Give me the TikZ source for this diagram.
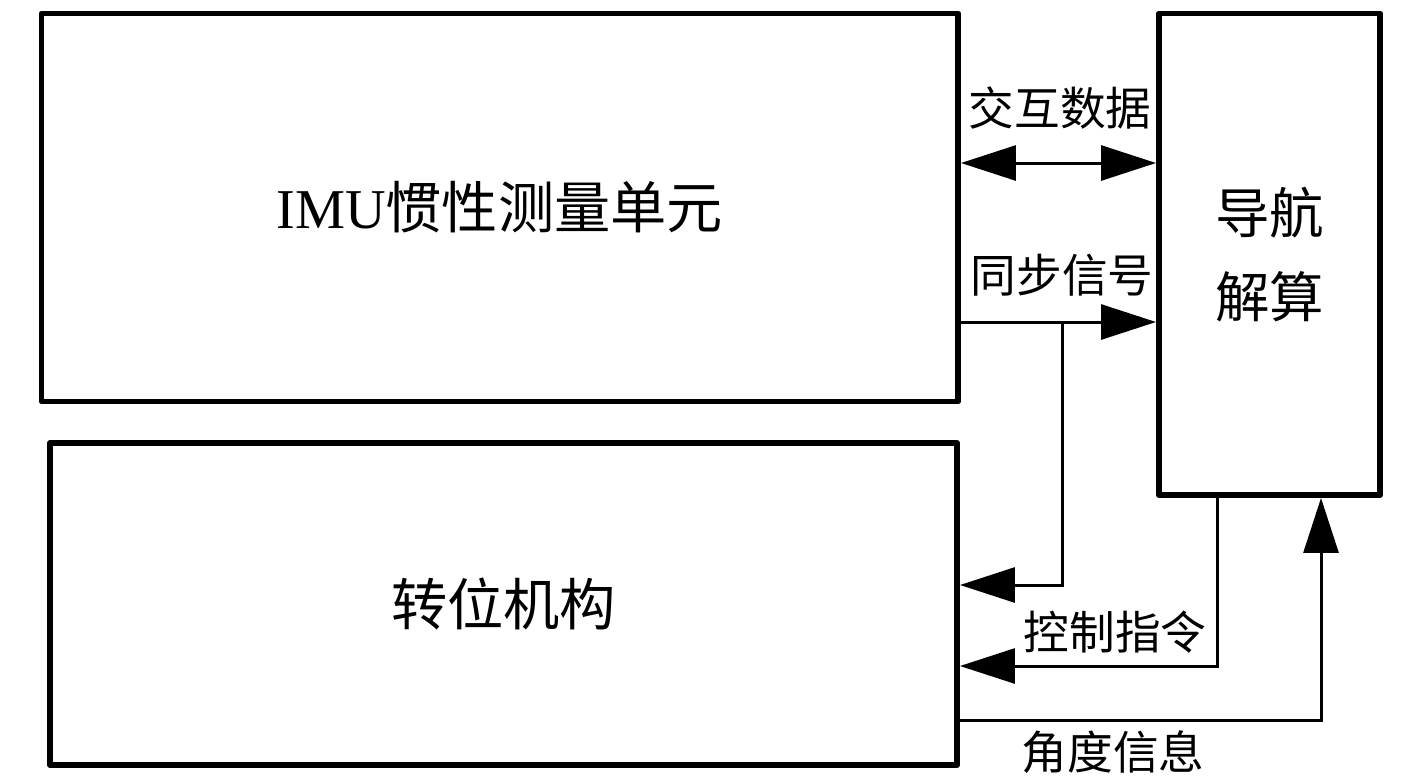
\documentclass[tikz,border=0pt]{standalone}
\usepackage{fontspec}
\setmainfont{Liberation Serif}
\newfontfamily\cjk{Noto Sans CJK SC}
\usetikzlibrary{arrows.meta, positioning}

\begin{document}
\begin{tikzpicture}[
    >={Triangle[length=1.1cm, width=0.7cm]},
    block/.style={rectangle, draw, line width=3.4pt, line join=round, inner sep=0pt, align=center},
    bigtext/.style={font=\fontsize{32}{48}\selectfont},
    lbl/.style={font=\cjk\fontsize{26}{30}\selectfont, inner sep=0pt},
    arrow/.style={->, line width=1.7pt},
    biarrow/.style={<->, line width=1.7pt}
]
\useasboundingbox (0,0) rectangle (28.34,-15.52);

\node[block, bigtext, minimum width=18.33cm, minimum height=7.76cm] (imu) at (9.995,-4.15) {IMU{\cjk 惯性测量单元}};
\node[block, bigtext, minimum width=18.14cm, minimum height=6.44cm] (zw) at (10.07,-12.08) {\cjk 转位机构};
\node[block, font=\cjk\fontsize{31}{48}\selectfont, minimum width=4.42cm, minimum height=9.63cm] (nav) at (25.39,-5.085) {导航\\解算};

% turning points of the links
\coordinate (datarow) at (0,-3.26);
\coordinate (syncrow) at (0,-6.44);
\coordinate (syncfork) at (21.24,-11.70);
\coordinate (cmdturn) at (24.34,-13.32);
\coordinate (angleturn) at (26.42,-14.40);

\draw[biarrow] (imu.east |- datarow) -- (nav.west |- datarow);
\draw[arrow] (imu.east |- syncrow) -- (nav.west |- syncrow);
\draw[arrow] (syncfork |- syncrow) -- (syncfork) -- (zw.east |- syncfork);
\draw[arrow] (nav.south -| cmdturn) -- (cmdturn) -- (zw.east |- cmdturn);
\draw[arrow] (zw.east |- angleturn) -- (angleturn) -- (nav.south -| angleturn);

\node[lbl] (datalbl) at (21.2,-2.16) {交互数据};
\node[lbl] (synclbl) at (21.24,-5.5) {同步信号};
\node[lbl] (cmdlbl) at (22.3,-12.64) {控制指令};
\node[lbl] (anglelbl) at (22.26,-15.04) {角度信息};
\end{tikzpicture}
\end{document}
